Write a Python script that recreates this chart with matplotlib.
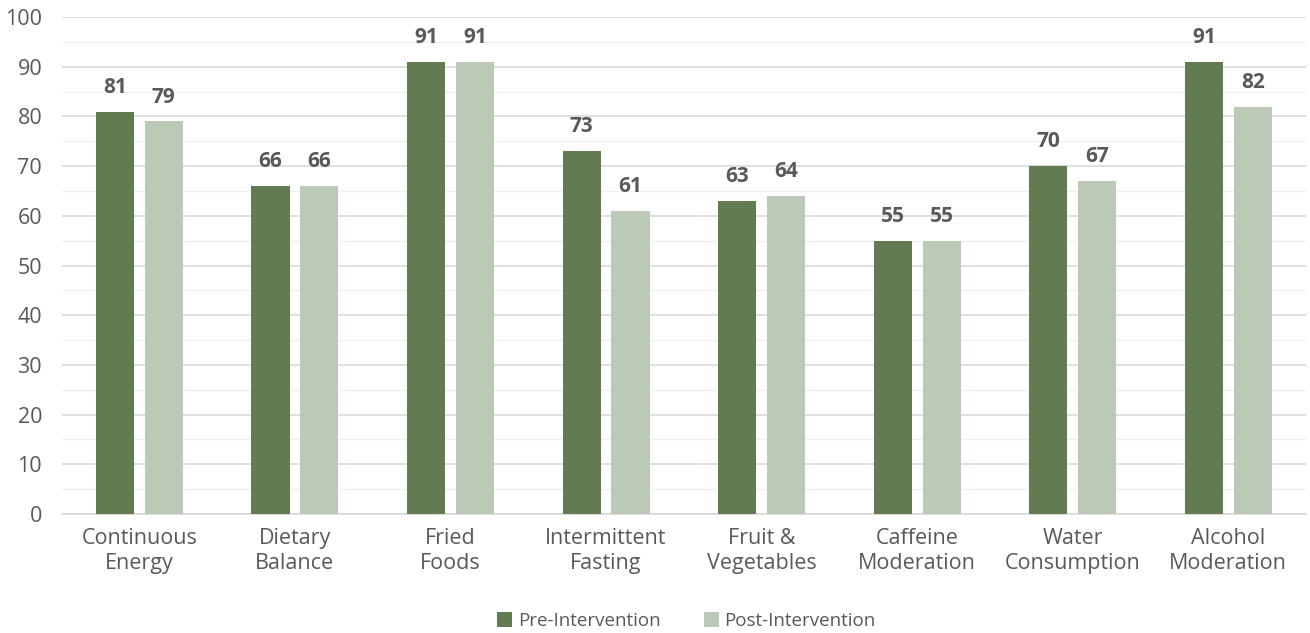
import numpy as np
import matplotlib.pyplot as plt
from matplotlib.ticker import MultipleLocator

plt.rcParams['font.family'] = ['Open Sans', 'DejaVu Sans']

categories = ["Continuous\nEnergy", "Dietary\nBalance", "Fried\nFoods", "Intermittent\nFasting",
              "Fruit &\nVegetables", "Caffeine\nModeration", "Water\nConsumption", "Alcohol\nModeration"]
pre_vals = [81, 66, 91, 73, 63, 55, 70, 91]
post_vals = [79, 66, 91, 61, 64, 55, 67, 82]

pre_color = "#627B53"
post_color = "#BDC9B7"
text_color = "#595959"

fig = plt.figure(figsize=(13.1, 6.33), dpi=100)
ax = fig.add_axes([0.047, 0.188, 0.950, 0.785])

x = np.arange(len(categories))
w = 0.245
off = 0.157
b1 = ax.bar(x - off, pre_vals, w, color=pre_color, label="Pre-Intervention", zorder=3)
b2 = ax.bar(x + off, post_vals, w, color=post_color, label="Post-Intervention", zorder=3)

# value labels above each bar
for bars in (b1, b2):
    for b in bars:
        ax.text(b.get_x() + b.get_width() / 2, b.get_height() + 4.9, f"{int(b.get_height())}",
                ha="center", va="center", fontsize=15, fontweight="bold", color=text_color)

ax.set_xlim(-0.5, len(categories) - 0.5)
ax.set_ylim(0, 100)
ax.yaxis.set_major_locator(MultipleLocator(10))
ax.yaxis.set_minor_locator(MultipleLocator(5))
ax.grid(axis="y", which="major", color="#D9D9D9", linewidth=1.2, zorder=0)
ax.grid(axis="y", which="minor", color="#F0F0F0", linewidth=1.0, zorder=0)

ax.set_xticks(x)
ax.set_xticklabels(categories, fontsize=15.5, color=text_color, linespacing=1.27)
ax.tick_params(axis="y", labelsize=15.5, labelcolor=text_color, length=0, pad=14)
ax.tick_params(axis="x", length=0, pad=10)
ax.tick_params(which="minor", length=0)

for s in ["top", "right", "left"]:
    ax.spines[s].set_visible(False)
ax.spines["bottom"].set_color("#D9D9D9")
ax.spines["bottom"].set_linewidth(1.2)

fig.legend(loc="center", bbox_to_anchor=(0.524, 0.019), ncol=2, frameon=False,
           fontsize=13.5, labelcolor=text_color, handlelength=0.8, handleheight=0.8,
           handletextpad=0.3, columnspacing=2.3)

fig.savefig("out.png", dpi=100)
